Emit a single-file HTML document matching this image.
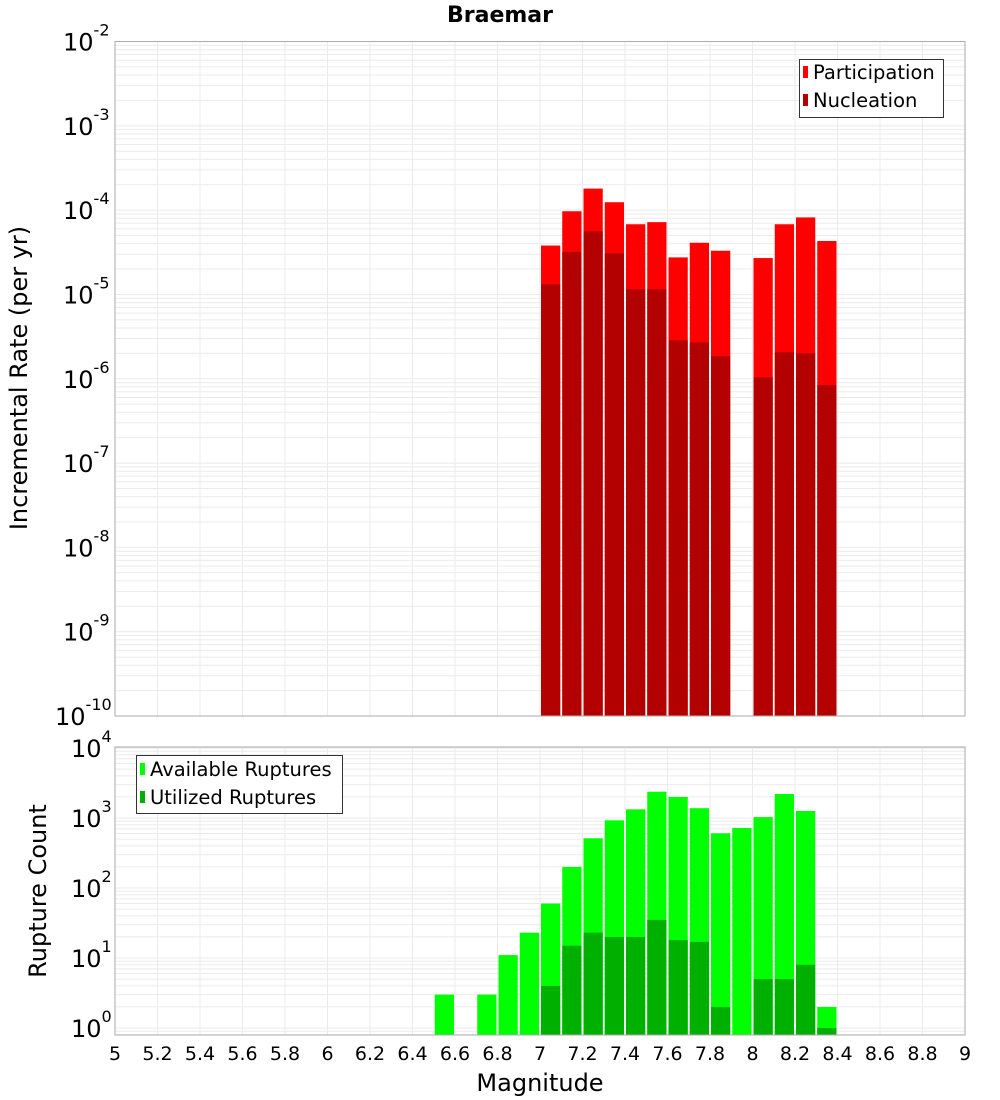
<!DOCTYPE html>
<html><head><meta charset="utf-8"><style>
html,body{margin:0;padding:0;background:#fff;}
svg{display:block;font-family:"DejaVu Sans","Liberation Sans",sans-serif;}
</style></head><body>
<svg id="chart" width="1000" height="1100" xmlns="http://www.w3.org/2000/svg">
<text x="500" y="22" text-anchor="middle" font-size="22" font-weight="bold">Braemar</text>
<g id="top"></g>
<g id="bot"></g>
<text transform="translate(27,378) rotate(-90)" text-anchor="middle" font-size="24">Incremental Rate (per yr)</text>
<text transform="translate(46,891) rotate(-90)" text-anchor="middle" font-size="24">Rupture Count</text>
<text x="540" y="1091" text-anchor="middle" font-size="24">Magnitude</text>
</svg>
<script>
const mags = [7.05,7.15,7.25,7.35,7.45,7.55,7.65,7.75,7.85,8.05,8.15,8.25,8.35];
const participation = [3.8e-5,9.7e-5,1.8e-4,1.24e-4,6.8e-5,7.2e-5,2.75e-5,4.1e-5,3.3e-5,2.7e-5,6.8e-5,8.2e-5,4.3e-5];
const nucleation = [1.32e-5,3.2e-5,5.6e-5,3.07e-5,1.15e-5,1.15e-5,2.86e-6,2.7e-6,1.85e-6,1.04e-6,2.06e-6,2.0e-6,8.4e-7];
const countMags = [6.55,6.75,6.85,6.95,7.05,7.15,7.25,7.35,7.45,7.55,7.65,7.75,7.85,7.95,8.05,8.15,8.25,8.35];
const available = [3,3,11,23,60,200,513,927,1330,2375,2000,1380,605,720,1030,2200,1260,2];
const utilized = [0,0,0,0,4,15,23,20,20,35,18,17,2,0,5,5,8,1];
const xTicks = [5,5.2,5.4,5.6,5.8,6,6.2,6.4,6.6,6.8,7,7.2,7.4,7.6,7.8,8,8.2,8.4,8.6,8.8,9];
const topExps = [-2,-3,-4,-5,-6,-7,-8,-9,-10];
const botExps = [0,1,2,3,4];

const NS='http://www.w3.org/2000/svg';
const X0=115,X1=965;
const xs=m=>X0+(m-5)/4*(X1-X0);
function mk(p,tag,at){const e=document.createElementNS(NS,tag);for(const k in at)e.setAttribute(k,at[k]);p.appendChild(e);return e;}

function panel(g,top,bot,ymin,ymax,prefix){
  const ys=v=>bot-(Math.log10(v)-Math.log10(ymin))/(Math.log10(ymax)-Math.log10(ymin))*(bot-top);
  mk(g,'rect',{x:X0,y:top,width:X1-X0,height:bot-top,fill:'#fff'});
  for(let e=Math.floor(Math.log10(ymin));e<=Math.ceil(Math.log10(ymax));e++){
    for(let k=1;k<10;k++){const v=k*Math.pow(10,e);if(v<ymin||v>ymax)continue;const y=ys(v);
      const l=mk(g,'line',{x1:X0,x2:X1,y1:y,y2:y,stroke:'#ebebeb','stroke-width':1});
      
      }
  }
  xTicks.forEach(t=>{const x=xs(t);const l=mk(g,'line',{x1:x,x2:x,y1:top,y2:bot,stroke:'#ebebeb','stroke-width':1});
    
    });
  return ys;
}
function border(g,top,bot){mk(g,'rect',{x:X0,y:top,width:X1-X0,height:bot-top,fill:'none',stroke:'#aaa','stroke-width':1});}
function ylabel(g,y,exp,name){
  const t=mk(g,'text',{y:y+9,'font-size':24});
  
  
  const a=mk(t,'tspan',{});a.textContent='10';
  const b=mk(t,'tspan',{dy:-15,'font-size':16});b.textContent=String(exp);
  t.setAttribute('text-anchor','start');t.setAttribute('x',X0-44+(String(exp).length>1?-8*(String(exp).length-1):0));
}
function bars(g,ms,vals,ys,bot,color,name){
  ms.forEach((m,i)=>{if(vals[i]<=0)return;const x=xs(m-0.05)+1,w=xs(m+0.05)-xs(m-0.05)-2;const y=Math.max(ys(vals[i]),0);
    const r=mk(g,'rect',{x:x,y:y,width:w,height:Math.max(bot-y,0),fill:color});
    
    });
}
const T=document.getElementById('top');
const tTop=41.5,tBot=716;
const ysT=panel(T,tTop,tBot,1e-10,1e-2,'rate');
bars(T,mags,participation,ysT,tBot,'#ff0000','participation-bar');
bars(T,mags,nucleation,ysT,tBot,'#b30000','nucleation-bar');
border(T,tTop,tBot);
topExps.forEach(e=>ylabel(T,ysT(Math.pow(10,e)),e,'rate-tick-label'));
const lg=mk(T,'g',{});
mk(lg,'rect',{x:799.5,y:59.5,width:144,height:58,fill:'#fff',stroke:'#333'});
mk(lg,'rect',{x:803,y:66,width:5,height:12,fill:'#ff0000'});
mk(lg,'rect',{x:803,y:94,width:5,height:12,fill:'#b30000'});
let tx=mk(lg,'text',{x:813,y:79,'font-size':19.5});tx.textContent='Participation';
tx=mk(lg,'text',{x:813,y:107,'font-size':19.5});tx.textContent='Nucleation';
const B=document.getElementById('bot');
const bTop=747,bBot=1035;
const ysB=v=>1028-70*Math.log10(v);
panel(B,bTop,bBot,Math.pow(10,-7/70),Math.pow(10,281/70),'count');
bars(B,countMags,available,ysB,bBot,'#00ff00','available-bar');
bars(B,countMags,utilized,ysB,bBot,'#00b000','utilized-bar');
border(B,bTop,bBot);
botExps.forEach(e=>ylabel(B,ysB(Math.pow(10,e)),e,'count-tick-label'));
const lb=mk(B,'g',{});
mk(lb,'rect',{x:136.5,y:755.5,width:206,height:58,fill:'#fff',stroke:'#333'});
mk(lb,'rect',{x:140,y:763,width:5,height:12,fill:'#00ff00'});
mk(lb,'rect',{x:140,y:791,width:5,height:12,fill:'#00b000'});
tx=mk(lb,'text',{x:150,y:776,'font-size':19.5});tx.textContent='Available Ruptures';
tx=mk(lb,'text',{x:150,y:804,'font-size':19.5});tx.textContent='Utilized Ruptures';
xTicks.forEach(t=>{const e=mk(B,'text',{x:xs(t),y:1060,'text-anchor':'middle','font-size':19});
  
  
  e.textContent=String(t);});
</script>
</body></html>
